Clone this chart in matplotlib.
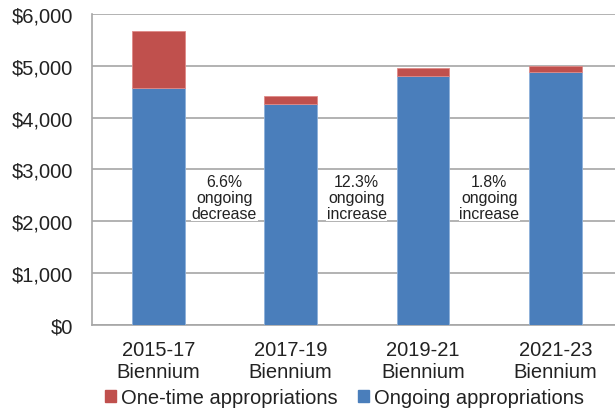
import matplotlib.pyplot as plt
from matplotlib.patches import Patch

plt.rcParams['font.family'] = ['Liberation Sans', 'DejaVu Sans']

periods = ['2015-17\nBiennium', '2017-19\nBiennium', '2019-21\nBiennium', '2021-23\nBiennium']
ongoing = [4566, 4263, 4797, 4875]
one_time = [1112, 148, 161, 121]
notes = ['6.6%\nongoing\ndecrease', '12.3%\nongoing\nincrease', '1.8%\nongoing\nincrease']
note_y = 2460

blue = '#4A7EBB'
red = '#C0504D'

fig = plt.figure(figsize=(6.15, 4.1), dpi=100)
ax = fig.add_axes([0.1496, 0.2054, 0.8504, 0.758])

x = range(len(periods))
ax.bar(x, ongoing, width=0.4, color=blue, edgecolor='#8DB0DA', linewidth=0.6, zorder=3)
ax.bar(x, one_time, bottom=ongoing, width=0.4, color=red, edgecolor='#E08A88', linewidth=0.6, zorder=3)

for i, t in enumerate(notes):
    ax.text(i + 0.5, note_y, t, ha='center', va='center', fontsize=11.4, color='#222222',
            linespacing=1.08, zorder=4,
            bbox=dict(facecolor='white', edgecolor='none', pad=0.5))

ax.set_ylim(0, 6000)
ax.set_xlim(-0.5, 3.45)
ax.set_yticks(range(0, 6001, 1000))
ax.set_yticklabels(['${:,}'.format(v) for v in range(0, 6001, 1000)], fontsize=14.5, color='#222222')
ax.set_xticks(list(x))
ax.set_xticklabels(periods, fontsize=14.5, color='#222222', linespacing=1.17)
ax.tick_params(axis='x', length=0, pad=11)
ax.tick_params(axis='y', length=0, pad=13.5)

ax.grid(axis='y', color='#A6A6A6', linewidth=1.2, zorder=0)
ax.set_axisbelow(True)
for s in ['top', 'right']:
    ax.spines[s].set_visible(False)
for s in ['left', 'bottom']:
    ax.spines[s].set_color('#A6A6A6')
    ax.spines[s].set_linewidth(1.2)

handles = [Patch(color=red, label='One-time appropriations'),
           Patch(color=blue, label='Ongoing appropriations')]
fig.legend(handles=handles, loc='center', bbox_to_anchor=(0.56, 0.028), ncol=2,
           frameon=False, fontsize=14.5, handlelength=0.55, handleheight=0.55,
           handletextpad=0.25, columnspacing=1.0, labelcolor='#222222',
           borderpad=0, borderaxespad=0)

fig.savefig('out.png', dpi=100)
